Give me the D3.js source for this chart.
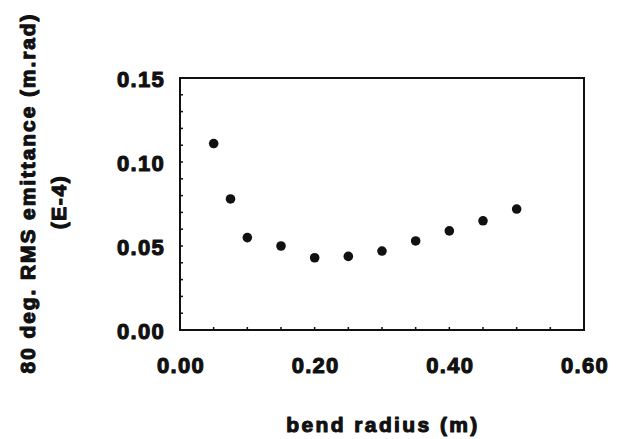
<!DOCTYPE html>
<html>
<head>
<meta charset="utf-8">
<script src="https://cdn.jsdelivr.net/npm/d3@7"></script>
<style>
  body { margin: 0; background: #fff; }
  svg text {
    font-family: "Liberation Sans", Arial, sans-serif;
    font-weight: bold;
    fill: #111;
    stroke: #111;
    stroke-width: 1.1px;
    stroke-linejoin: round;
  }
</style>
</head>
<body>
<svg id="chart" width="619" height="439"></svg>
<script>
const radius = [0.05, 0.075, 0.10, 0.15, 0.20, 0.25, 0.30, 0.35, 0.40, 0.45, 0.50];
const emittance = [0.111, 0.078, 0.055, 0.050, 0.043, 0.0438, 0.047, 0.053, 0.059, 0.065, 0.072];
const xTicks = [0, 0.2, 0.4, 0.6];
const yTicks = [0, 0.05, 0.10, 0.15];

(() => {
  const width = 619;
  const height = 439;
  const margin = { top: 78, right: 35, bottom: 109, left: 180 };
  const innerWidth = width - margin.left - margin.right;
  const innerHeight = height - margin.top - margin.bottom;

  const svg = d3.select("#chart");
  const g = svg.append("g")
    .attr("transform", `translate(${margin.left}, ${margin.top})`);

  const x = d3.scaleLinear().domain([0, 0.6]).range([0, innerWidth]);
  const y = d3.scaleLinear().domain([0, 0.15]).range([innerHeight, 0]);

  // frame
  g.append("rect")
    .attr("width", innerWidth)
    .attr("height", innerHeight)
    .attr("fill", "none")
    .attr("stroke", "#111")
    .attr("stroke-width", 2);

  // minor ticks, pointing in
  const yMinor = d3.range(1, 15).map(i => i / 100);
  g.selectAll(".ytick")
    .data(yMinor)
    .join("line")
    .attr("x1", 0).attr("x2", 3)
    .attr("y1", d => y(d)).attr("y2", d => y(d))
    .attr("stroke", "#111").attr("stroke-width", 1.5);

  const xMinor = d3.range(1, 12).map(i => i * 0.05);
  g.selectAll(".xtick")
    .data(xMinor)
    .join("line")
    .attr("x1", d => x(d)).attr("x2", d => x(d))
    .attr("y1", innerHeight).attr("y2", innerHeight - 3)
    .attr("stroke", "#111").attr("stroke-width", 1.5);

  // tick labels
  g.selectAll(".ylab")
    .data(yTicks)
    .join("text")
    .attr("x", -15)
    .attr("y", d => y(d) + 9)
    .attr("text-anchor", "end")
    .style("font-size", "22px")
    .style("letter-spacing", "1.3px")
    .text(d => d3.format(".2f")(d));

  g.selectAll(".xlab")
    .data(xTicks)
    .join("text")
    .attr("x", d => x(d) + 1)
    .attr("y", innerHeight + 43)
    .attr("text-anchor", "middle")
    .style("font-size", "22px")
    .style("letter-spacing", "1.3px")
    .text(d => d3.format(".2f")(d));

  // axis titles
  svg.append("text")
    .attr("x", 383)
    .attr("y", 432)
    .attr("text-anchor", "middle")
    .style("font-size", "21px")
    .style("letter-spacing", "2.4px")
    .text("bend radius (m)");

  svg.append("text")
    .attr("transform", "translate(35, 193) rotate(-90)")
    .attr("text-anchor", "middle")
    .style("font-size", "21px")
    .style("letter-spacing", "1.9px")
    .text("80 deg. RMS emittance (m.rad)");

  svg.append("text")
    .attr("transform", "translate(66, 202) rotate(-90)")
    .attr("text-anchor", "middle")
    .style("font-size", "21px")
    .style("letter-spacing", "1.6px")
    .text("(E-4)");

  // points
  g.selectAll(".dot")
    .data(radius.map((r, i) => ({ r, e: emittance[i] })))
    .join("circle")
    .attr("class", "dot")
    .attr("cx", d => x(d.r))
    .attr("cy", d => y(d.e))
    .attr("r", 4.8)
    .attr("fill", "#111");
})();
</script>
</body>
</html>
